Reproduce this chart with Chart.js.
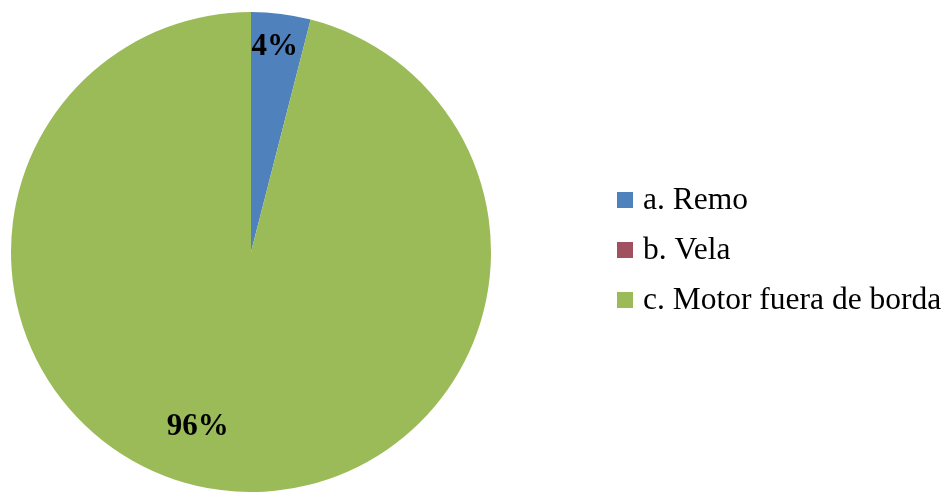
<!DOCTYPE html>
<html>
<head>
<meta charset="utf-8">
<script src="https://cdn.jsdelivr.net/npm/chart.js@4/dist/chart.umd.min.js"></script>
<style>
  html, body { margin:0; padding:0; width:948px; height:492px; overflow:hidden; background:#fff; }
  #wrap { position:absolute; left:0; top:0; width:948px; height:492px; }
</style>
</head>
<body>
<div id="wrap"><canvas id="c"></canvas></div>
<script>
const categories = ["a. Remo", "b. Vela", "c. Motor fuera de borda"];
const values = [4, 0, 96];
const valueLabels = ["4%", "", "96%"];
const colors = ["#4F81BD", "#A0505E", "#9BBB59"];
// label placement: fraction of radius, angle offset (radians) from slice mid-angle
const labelRadius = [0.86, 0.7, 0.76];
const labelAngleShift = [-0.01, 0, 0.17];

const SERIF = '"Liberation Serif", "Times New Roman", "DejaVu Serif", serif';

const labelPlugin = {
  id: 'sliceLabels',
  afterDatasetsDraw(chart) {
    const ctx = chart.ctx;
    const meta = chart.getDatasetMeta(0);
    ctx.save();
    ctx.font = 'bold 31px ' + SERIF;
    ctx.fillStyle = '#000';
    ctx.textAlign = 'center';
    ctx.textBaseline = 'middle';
    meta.data.forEach((arc, i) => {
      if (!values[i]) return;
      const p = arc.getProps(['x','y','startAngle','endAngle','outerRadius'], true);
      const mid = (p.startAngle + p.endAngle) / 2 + labelAngleShift[i];
      const r = p.outerRadius * labelRadius[i];
      ctx.fillText(valueLabels[i], p.x + Math.cos(mid) * r, p.y + Math.sin(mid) * r);
    });
    ctx.restore();
  }
};

const legendPlugin = {
  id: 'sideLegend',
  afterDraw(chart) {
    const ctx = chart.ctx;
    const x0 = 617, y0 = 192, step = 50;
    ctx.save();
    ctx.font = '31.5px ' + SERIF;
    ctx.textAlign = 'left';
    ctx.textBaseline = 'alphabetic';
    categories.forEach((c, i) => {
      const y = y0 + i * step;
      ctx.fillStyle = colors[i];
      ctx.fillRect(x0, y, 16, 16);
      ctx.fillStyle = '#000';
      ctx.fillText(c, x0 + 26, y + 17);
    });
    ctx.restore();
  }
};

new Chart(document.getElementById('c'), {
  type: 'pie',
  data: {
    labels: categories,
    datasets: [{ data: values, backgroundColor: colors, borderWidth: 0 }]
  },
  options: {
    responsive: true,
    maintainAspectRatio: false,
    animation: false,
    layout: { padding: { left: 10, top: 12, right: 456, bottom: 0 } },
    plugins: { legend: { display: false }, tooltip: { enabled: false } }
  },
  plugins: [labelPlugin, legendPlugin]
});
</script>
</body>
</html>
